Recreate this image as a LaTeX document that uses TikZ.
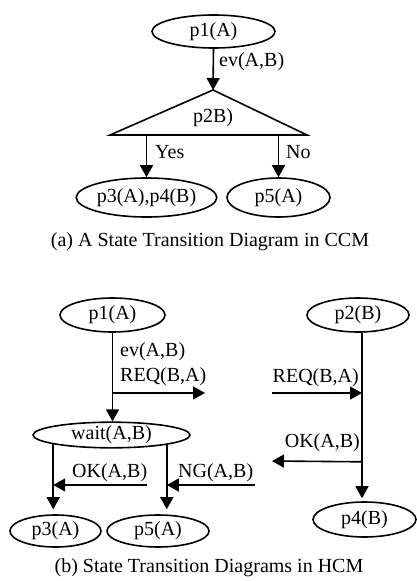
\documentclass[tikz,border=0pt]{standalone}
\usepackage{fontspec}
\setmainfont{Liberation Serif}
\usetikzlibrary{arrows.meta,shapes.geometric,calc}
\begin{document}
\begin{tikzpicture}[x=1pt,y=-1pt,
  every node/.style={font=\fontsize{20}{24}\selectfont},
  state/.style={ellipse,draw,line width=1.6pt,inner sep=0pt},
  lbl/.style={inner sep=0pt},
  flow/.style={line width=1.6pt,-{Triangle[length=12pt,width=13pt]}},
  wire/.style={line width=1.6pt}]
\useasboundingbox (0,0) rectangle (417,581);

% ---- (a) CCM ----
\node[state,minimum width=123pt,minimum height=33pt] (a1) at (213.5,31.5) {p1(A)};
\coordinate (apex) at (213,90);
\coordinate (bl) at (110,135);
\coordinate (br) at (307,135);
\draw[wire,line join=miter] (apex) -- (br) -- (bl) -- cycle;
\node[lbl] (a2) at (213,118) {p2B)};
\draw[flow] (a1.south) -- (apex);
\node[lbl,anchor=west] (lev) at (219,62) {ev(A,B)};
\node[state,minimum width=115pt,minimum height=39pt] (a34) at (146.5,197.5) {p3(A),p4(B)};
\node[state,minimum width=103pt,minimum height=39pt] (a5) at (278.5,197.5) {p5(A)};
\coordinate (byes) at (a34.north |- bl);
\coordinate (bno) at (a5.north |- bl);
\draw[flow] (byes) -- (a34.north);
\draw[flow] (bno) -- (a5.north);
\node[lbl,anchor=west] (lyes) at (155,152) {Yes};
\node[lbl,anchor=west] (lno) at (286,152) {No};
\node[lbl] (capa) at (210,242) {(a) A State Transition Diagram in CCM};

% ---- (b) HCM ----
\node[state,minimum width=105pt,minimum height=34pt] (b1) at (112.5,315) {p1(A)};
\node[state,minimum width=102pt,minimum height=34pt] (b2) at (358,315) {p2(B)};
\node[state,minimum width=157pt,minimum height=24pt] (bw) at (111.5,435) {wait(A,B)};
\node[state,minimum width=91pt,minimum height=32pt] (b3) at (55.5,531) {p3(A)};
\node[state,minimum width=102pt,minimum height=32pt] (b5) at (158,531) {p5(A)};
\node[state,minimum width=103pt,minimum height=35pt] (b4) at (364.5,519.5) {p4(B)};

% A: p1 -> wait, sending REQ
\draw[flow] (b1.south) -- (b1.south |- bw.north);
\node[lbl,anchor=west] (lev2) at (120,352) {ev(A,B)};
\node[lbl,anchor=west] (lreq) at (120,377) {REQ(B,A)};
\coordinate (reqfrom) at (113,393);
\coordinate (reqto) at (205,393);
\draw[flow] (reqfrom) -- (reqto);

% B: p2 -> p4, receiving REQ and replying OK
\coordinate (btop) at ($(b2.south)+(4,0)$);
\draw[flow,shorten >=3pt] (btop) -- (btop |- b4.north);
\coordinate (reqin) at (272,393);
\coordinate (reqat) at (btop |- reqin);
\draw[flow] (reqin) -- (reqat);
\node[lbl,anchor=east] (lreqb) at (359,378) {REQ(B,A)};
\coordinate (okat) at ($(btop)+(0,129)$);
\coordinate (okout) at (272,461);
\draw[flow] (okat) -- (okout);
\node[lbl,anchor=east] (lokb) at (360,443) {OK(A,B)};

% A: wait -> p3 / p5
\draw[flow,shorten >=5pt] (bw.189) -- (bw.189 |- b3.north);
\draw[flow,shorten >=5pt] (bw.-10) -- (bw.-10 |- b5.north);
\coordinate (okin) at (147,485);
\coordinate (okstop) at (bw.189 |- okin);
\draw[flow] (okin) -- (okstop);
\node[lbl,anchor=west] (loka) at (72,473) {OK(A,B)};
\coordinate (ngin) at (255,485);
\coordinate (ngstop) at (bw.-10 |- ngin);
\draw[flow] (ngin) -- (ngstop);
\node[lbl,anchor=west] (lng) at (178,473) {NG(A,B)};
\node[lbl] (capb) at (209,568) {(b) State Transition Diagrams in HCM};
\end{tikzpicture}
\end{document}
